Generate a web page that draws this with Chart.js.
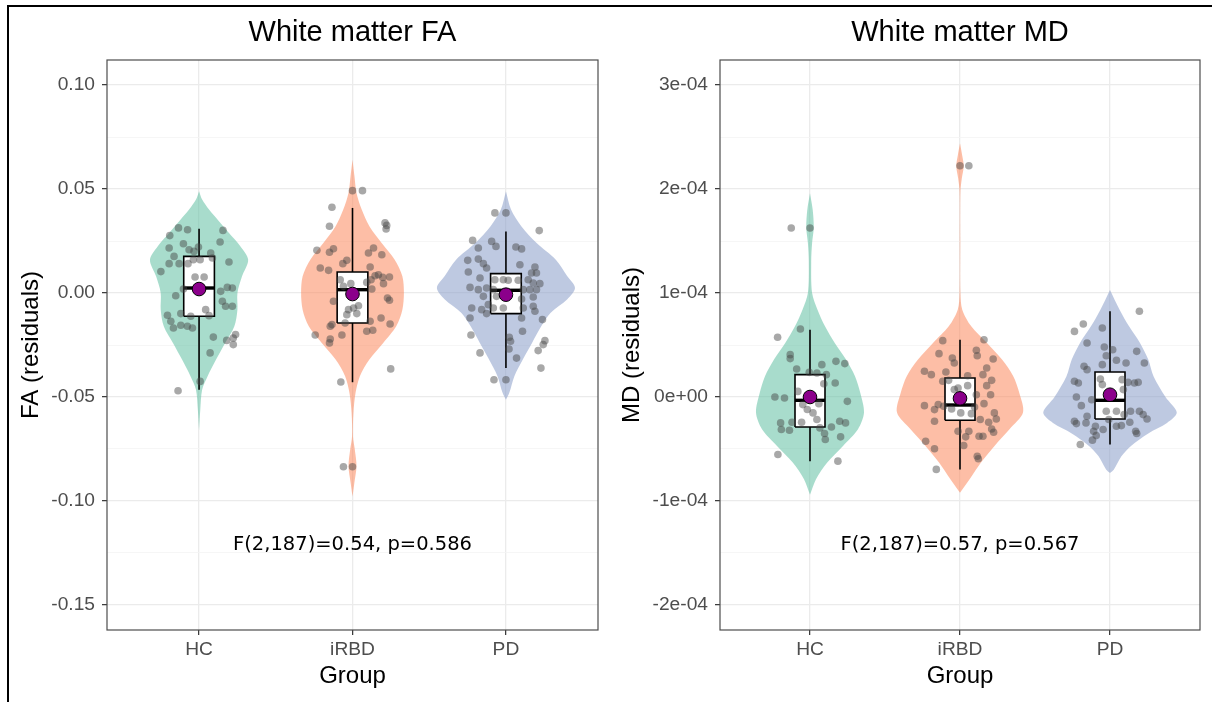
<!DOCTYPE html>
<html>
<head>
<meta charset="utf-8">
<script src="https://cdn.jsdelivr.net/npm/chart.js@4.4.1/dist/chart.umd.min.js"></script>
<style>
  html, body { margin: 0; padding: 0; background: #fff; }
  body { width: 1212px; height: 702px; position: relative; overflow: hidden; }
  #frame { position: absolute; left: 7px; top: 5px; width: 1300px; height: 800px;
           border-top: 2px solid #000; border-left: 2px solid #000; }
  canvas { position: absolute; top: 0; }
  #fa { left: 0; }
  #md { left: 606px; }
</style>
</head>
<body>
<div id="frame"></div>
<canvas id="fa" width="606" height="702"></canvas>
<canvas id="md" width="606" height="702"></canvas>
<script>
const groups = ['HC', 'iRBD', 'PD'];
const groupColors = ['#66C2A5', '#FC8D62', '#8DA0CB'];

// ---- White matter FA ----
const faTickValues = [-0.15, -0.10, -0.05, 0, 0.05, 0.10];
const faTickLabels = ['-0.15', '-0.10', '-0.05', '0.00', '0.05', '0.10'];
const faQ1 = [-0.0112, -0.0144, -0.0099];
const faMedian = [0.0024, 0.0016, 0.0013];
const faQ3 = [0.0176, 0.0101, 0.0093];
const faWhiskerLow = [-0.0465, -0.0429, -0.0361];
const faWhiskerHigh = [0.0309, 0.0409, 0.0296];
const faMean = [0.0019, -0.0005, -0.0008];
const faStat = 'F(2,187)=0.54, p=0.586';

// violin outline: [value, half width in group units]
const faViolinHC = [[-0.066,0],[-0.056,0.008],[-0.0465,0.02],[-0.0401,0.055],[-0.0321,0.11],[-0.024,0.17],[-0.016,0.23],[-0.008,0.25],[0,0.25],[0.008,0.28],[0.016,0.32],[0.0224,0.27],[0.0288,0.195],[0.0353,0.12],[0.0401,0.065],[0.0449,0.02],[0.0489,0]];
const faViolinIRBD = [[-0.0978,0],[-0.0913,0.012],[-0.0833,0.026],[-0.0753,0.015],[-0.0689,0.003],[-0.0577,0.006],[-0.048,0.02],[-0.040,0.048],[-0.032,0.11],[-0.024,0.2],[-0.016,0.285],[-0.008,0.325],[0,0.335],[0.008,0.325],[0.016,0.275],[0.024,0.19],[0.0321,0.11],[0.0401,0.06],[0.0481,0.026],[0.056,0.013],[0.0641,0]];
const faViolinPD = [[-0.0513,0],[-0.048,0.022],[-0.040,0.055],[-0.032,0.11],[-0.024,0.17],[-0.016,0.23],[-0.0096,0.29],[-0.003,0.40],[0.0024,0.45],[0.008,0.40],[0.016,0.325],[0.024,0.2],[0.0321,0.1],[0.0401,0.033],[0.0489,0]];

// jittered observations: [x offset in group units, value]
const faPointsHC = [[-0.134,0.0313],[-0.075,0.0304],[-0.191,0.0276],[0.156,0.0301],[-0.102,0.0237],[-0.004,0.0221],[0.137,0.0245],[-0.195,0.0216],[-0.065,0.0208],[-0.033,0.0200],[0.076,0.0192],[-0.163,0.0176],[0.087,0.0168],[0.007,0.0160],[-0.037,0.0160],[0.195,0.0149],[-0.195,0.0141],[-0.130,0.0141],[-0.072,0.0141],[-0.249,0.0103],[-0.026,0.0077],[0.033,0.0077],[-0.102,0.0019],[0.141,0.0008],[0.184,0.0027],[0.217,0.0024],[-0.152,-0.0013],[0.152,-0.0040],[0.173,-0.0064],[0.217,-0.0064],[0.043,-0.0080],[-0.119,-0.0099],[-0.206,-0.0107],[-0.054,-0.0112],[0.065,-0.0109],[-0.184,-0.0136],[-0.119,-0.0155],[-0.076,-0.0160],[-0.043,-0.0168],[-0.167,-0.0168],[0.093,-0.0212],[0.180,-0.0228],[0.223,-0.0248],[0.238,-0.0200],[0.223,-0.0216],[0.072,-0.0288],[0.007,-0.0425],[-0.137,-0.0470]];
const faPointsIRBD = [[0,0.0492],[0.065,0.0492],[-0.134,0.0412],[-0.150,0.0321],[0.212,0.0337],[0.223,0.0325],[0.219,0.0308],[-0.232,0.0205],[-0.150,0.0196],[-0.124,0.0213],[0.137,0.0216],[0.104,0.0192],[0.191,0.0184],[-0.037,0.0157],[-0.063,0.0141],[0.115,0.0125],[-0.210,0.0120],[-0.156,0.0109],[0.169,0.0088],[0.147,0.0083],[0.197,0.0075],[0.121,0.0064],[0.241,0.0077],[-0.011,0.0045],[-0.080,0.0064],[-0.059,0.0032],[0.093,0.0051],[0.202,0.0045],[0.126,0.0019],[-0.124,-0.0040],[0.228,-0.0024],[0.241,-0.0035],[0.039,-0.0061],[0.007,-0.0072],[-0.026,-0.0080],[-0.037,-0.0104],[0.028,-0.0099],[0.186,-0.0120],[-0.134,-0.0152],[-0.145,-0.0160],[-0.048,-0.0144],[0.115,-0.0136],[0.132,-0.0179],[0.093,-0.0184],[0.245,-0.0149],[-0.243,-0.0202],[-0.069,-0.0202],[-0.145,-0.0221],[-0.150,-0.0240],[0.249,-0.0365],[-0.076,-0.0428],[-0.059,-0.0835],[0,-0.0835]];
const faPointsPD = [[-0.072,0.0385],[0,0.0385],[0.217,0.0300],[-0.217,0.0253],[-0.093,0.0248],[-0.065,0.0224],[-0.180,0.0216],[0.065,0.0221],[0.102,0.0212],[-0.249,0.0157],[-0.180,0.0163],[-0.147,0.0141],[-0.126,0.0120],[0.091,0.0136],[0.189,0.0125],[0.167,0.0096],[0.199,0.0096],[-0.245,0.0101],[-0.169,0.0072],[-0.072,0.0064],[-0.017,0.0064],[0.015,0.0061],[0.080,0.0061],[0.145,0.0064],[0.178,0.0048],[0.221,0.0045],[-0.234,0.0027],[-0.180,0.0016],[-0.126,0.0024],[-0.082,0.0016],[0.113,0.0016],[0.156,0.0016],[0.199,0.0016],[-0.147,-0.0016],[-0.061,-0.0016],[0.102,-0.0029],[0.178,-0.0019],[-0.115,-0.0056],[-0.082,-0.0072],[-0.223,-0.0072],[-0.158,-0.0080],[-0.017,-0.0072],[0.113,-0.0072],[0.178,-0.0064],[0.189,-0.0088],[-0.126,-0.0099],[-0.234,-0.0120],[0.102,-0.0120],[0.238,-0.0128],[0.108,-0.0184],[0.022,-0.0213],[-0.228,-0.0202],[0.030,-0.0232],[0.254,-0.0229],[0.243,-0.0248],[0.020,-0.0269],[-0.169,-0.0288],[0.210,-0.0277],[0.069,-0.0313],[0.228,-0.0361],[-0.078,-0.0417],[0,-0.0417]];

// ---- White matter MD ----
const mdTickValues = [-2e-4, -1e-4, 0, 1e-4, 2e-4, 3e-4];
const mdTickLabels = ['-2e-04', '-1e-04', '0e+00', '1e-04', '2e-04', '3e-04'];
const mdQ1 = [-0.288e-4, -0.224e-4, -0.211e-4];
const mdMedian = [-0.032e-4, -0.077e-4, -0.032e-4];
const mdQ3 = [0.215e-4, 0.183e-4, 0.240e-4];
const mdWhiskerLow = [-0.617e-4, -0.696e-4, -0.457e-4];
const mdWhiskerHigh = [0.647e-4, 0.551e-4, 0.824e-4];
const mdMean = [0, -0.013e-4, 0.022e-4];
const mdStat = 'F(2,187)=0.57, p=0.567';

const mdViolinHC = [[-0.94e-4,0],[-0.79e-4,0.04],[-0.63e-4,0.115],[-0.47e-4,0.22],[-0.31e-4,0.32],[-0.15e-4,0.36],[0.04e-4,0.335],[0.20e-4,0.30],[0.36e-4,0.24],[0.52e-4,0.165],[0.68e-4,0.10],[0.84e-4,0.05],[1.0e-4,0.014],[1.3e-4,0.008],[1.48e-4,0.014],[1.63e-4,0.025],[1.8e-4,0.018],[1.96e-4,0]];
const mdViolinIRBD = [[-0.92e-4,0],[-0.79e-4,0.064],[-0.63e-4,0.14],[-0.47e-4,0.23],[-0.31e-4,0.33],[-0.15e-4,0.42],[0.04e-4,0.395],[0.20e-4,0.355],[0.36e-4,0.28],[0.52e-4,0.18],[0.68e-4,0.075],[0.84e-4,0.015],[1.0e-4,0.003],[1.5e-4,0.002],[1.98e-4,0.003],[2.1e-4,0.012],[2.22e-4,0.025],[2.32e-4,0.015],[2.44e-4,0]];
const mdViolinPD = [[-0.73e-4,0],[-0.70e-4,0.025],[-0.57e-4,0.076],[-0.47e-4,0.14],[-0.35e-4,0.255],[-0.25e-4,0.38],[-0.15e-4,0.445],[0,0.37],[0.20e-4,0.29],[0.36e-4,0.255],[0.52e-4,0.2],[0.68e-4,0.127],[0.84e-4,0.064],[1.03e-4,0]];

const mdPointsHC = [[-0.125,1.625e-4],[0,1.625e-4],[-0.216,0.574e-4],[-0.064,0.654e-4],[-0.132,0.407e-4],[-0.132,0.369e-4],[0.173,0.343e-4],[0.232,0.321e-4],[-0.089,0.269e-4],[-0.005,0.237e-4],[0.079,0.311e-4],[0.046,0.231e-4],[0.109,0.215e-4],[0.168,0.135e-4],[0.092,0.128e-4],[-0.081,0.054e-4],[-0.234,0],[-0.170,-0.01e-4],[-0.048,-0.073e-4],[-0.018,-0.12e-4],[0.059,-0.064e-4],[0.249,-0.042e-4],[-0.196,-0.249e-4],[-0.120,-0.243e-4],[-0.191,-0.313e-4],[-0.137,-0.319e-4],[-0.056,-0.243e-4],[0.046,-0.217e-4],[0.066,-0.297e-4],[0.143,-0.288e-4],[0.097,-0.351e-4],[0.198,-0.233e-4],[0.237,-0.249e-4],[0.204,-0.383e-4],[0.102,-0.409e-4],[-0.214,-0.553e-4],[0.186,-0.617e-4],[0.02,-0.153e-4]];
const mdPointsIRBD = [[0,2.224e-4],[0.059,2.224e-4],[-0.115,0.542e-4],[0.160,0.551e-4],[-0.140,0.417e-4],[-0.051,0.375e-4],[-0.038,0.327e-4],[0.109,0.449e-4],[0.115,0.397e-4],[0.221,0.365e-4],[-0.237,0.247e-4],[-0.191,0.215e-4],[-0.094,0.240e-4],[0.051,0.205e-4],[0.178,0.279e-4],[0.153,0.215e-4],[-0.115,0.151e-4],[-0.076,0.160e-4],[0.211,0.160e-4],[0.178,0.109e-4],[0.051,0.109e-4],[-0.013,0.087e-4],[-0.038,0.071e-4],[0.109,0.022e-4],[0.204,0.022e-4],[-0.237,-0.083e-4],[-0.145,-0.073e-4],[-0.170,-0.121e-4],[-0.109,-0.089e-4],[-0.056,-0.115e-4],[0.097,-0.096e-4],[0.160,-0.064e-4],[0.229,-0.153e-4],[0.242,-0.211e-4],[-0.170,-0.233e-4],[0.005,-0.153e-4],[0.076,-0.160e-4],[0.135,-0.217e-4],[0.191,-0.243e-4],[0.211,-0.307e-4],[0.224,-0.339e-4],[0.059,-0.329e-4],[0.127,-0.377e-4],[0.153,-0.377e-4],[-0.013,-0.329e-4],[0.038,-0.383e-4],[-0.229,-0.425e-4],[-0.170,-0.498e-4],[0.025,-0.466e-4],[0.115,-0.569e-4],[0.122,-0.594e-4],[-0.158,-0.696e-4]];
const mdPointsPD = [[0.196,0.824e-4],[-0.178,0.702e-4],[-0.237,0.631e-4],[-0.051,0.663e-4],[-0.153,0.519e-4],[-0.038,0.481e-4],[0.018,0.455e-4],[-0.025,0.397e-4],[0.178,0.439e-4],[0.229,0.327e-4],[0.107,0.327e-4],[0.043,0.353e-4],[-0.051,0.311e-4],[-0.173,0.295e-4],[-0.153,0.263e-4],[-0.064,0.173e-4],[0.081,0.167e-4],[0.120,0.141e-4],[0.163,0.135e-4],[0.188,0.141e-4],[-0.237,0.151e-4],[-0.211,0.135e-4],[-0.051,0.119e-4],[0.089,0.071e-4],[-0.224,0],[-0.191,-0.083e-4],[-0.122,-0.026e-4],[-0.025,-0.137e-4],[0.043,-0.137e-4],[0.137,-0.137e-4],[0.196,-0.137e-4],[0.221,-0.169e-4],[0.247,-0.211e-4],[0.094,-0.169e-4],[0.132,-0.243e-4],[0.043,-0.281e-4],[0.076,-0.275e-4],[0.171,-0.329e-4],[0.178,-0.351e-4],[-0.237,-0.233e-4],[-0.224,-0.256e-4],[-0.153,-0.185e-4],[-0.160,-0.249e-4],[-0.097,-0.281e-4],[-0.109,-0.329e-4],[-0.092,-0.371e-4],[-0.117,-0.415e-4],[-0.198,-0.457e-4],[-0.008,-0.217e-4],[-0.046,-0.313e-4]];

const SANS = '"Liberation Sans", Arial, Helvetica, sans-serif';

function rgba(hex, a) {
  const n = parseInt(hex.slice(1), 16);
  return `rgba(${(n >> 16) & 255},${(n >> 8) & 255},${n & 255},${a})`;
}

function buildDatasets(p) {
  const ds = [];
  const half = 0.1; // box half width
  p.violins.forEach((prof, g) => {
    const c = g + 1;
    const right = prof.map(([v, w]) => ({ x: c + w, y: v }));
    const left = prof.slice().reverse().map(([v, w]) => ({ x: c - w, y: v }));
    ds.push({ type: 'line', data: right.concat(left), fill: 'shape', tension: 0.3,
      backgroundColor: rgba(groupColors[g], 0.57), borderColor: 'rgba(0,0,0,0)', borderWidth: 0,
      pointRadius: 0, order: 6 });
  });
  groups.forEach((name, g) => {
    const c = g + 1;
    ds.push({ type: 'line', data: [{ x: c, y: p.wLow[g] }, { x: c, y: p.wHigh[g] }],
      borderColor: '#000', borderWidth: 1.6, pointRadius: 0, fill: false, order: 5 });
    ds.push({ type: 'line', data: [
        { x: c - half, y: p.q1[g] }, { x: c + half, y: p.q1[g] },
        { x: c + half, y: p.q3[g] }, { x: c - half, y: p.q3[g] }, { x: c - half, y: p.q1[g] }],
      fill: 'shape', backgroundColor: '#fff', borderColor: '#000', borderWidth: 1.6,
      pointRadius: 0, tension: 0, order: 4 });
    ds.push({ type: 'line', data: [{ x: c - half, y: p.median[g] }, { x: c + half, y: p.median[g] }],
      borderColor: '#000', borderWidth: 3.4, pointRadius: 0, fill: false, order: 3 });
  });
  const pts = [];
  p.points.forEach((arr, g) => arr.forEach(([dx, v]) => pts.push({ x: g + 1 + dx, y: v })));
  ds.push({ type: 'scatter', data: pts, pointRadius: 3.8, borderWidth: 0,
    backgroundColor: 'rgba(70,70,70,0.47)', order: 2 });
  ds.push({ type: 'scatter', data: p.mean.map((m, g) => ({ x: g + 1, y: m })),
    pointRadius: 6.8, borderWidth: 1, borderColor: '#000', backgroundColor: '#8B008B', order: 1 });
  return ds;
}

const panelDecor = {
  id: 'panelDecor',
  afterDatasetsDraw(chart) {
    const { ctx, chartArea: a, scales } = chart;
    const st = chart.options.plugins.panelDecor;
    ctx.save();
    ctx.strokeStyle = '#4d4d4d';
    ctx.lineWidth = 1.2;
    ctx.strokeRect(a.left, a.top, a.right - a.left, a.bottom - a.top);
    ctx.fillStyle = '#000';
    ctx.font = '19.5px "DejaVu Sans", sans-serif';
    ctx.textAlign = 'center';
    ctx.textBaseline = 'middle';
    ctx.fillText(st.text, scales.x.getPixelForValue(st.x), scales.y.getPixelForValue(st.y));
    ctx.restore();
  }
};

function makePanel(id, p) {
  const step = p.tickValues[1] - p.tickValues[0];
  const isMajor = v => p.tickValues.some(t => Math.abs(t - v) < step * 1e-6);
  new Chart(document.getElementById(id), {
    type: 'scatter',
    data: { datasets: buildDatasets(p) },
    options: {
      responsive: false,
      animation: false,
      events: [],
      layout: { padding: { left: 0, right: p.padRight, top: 0, bottom: 0 } },
      plugins: {
        legend: { display: false },
        tooltip: { enabled: false },
        title: { display: true, text: p.title, fullSize: false, color: '#000',
          font: { family: SANS, size: 29, weight: 'normal', lineHeight: 1.2 },
          padding: { top: 15.6, bottom: 9.6 } },
        panelDecor: { text: p.stat, x: 2, y: p.statY }
      },
      scales: {
        x: {
          type: 'linear', min: 0.4, max: 3.6, bounds: 'data',
          afterBuildTicks: s => { s.ticks = groups.map((g, i) => ({ value: i + 1 })); },
          afterFit: s => { s.height = 72; },
          ticks: { autoSkip: false, maxRotation: 0, padding: 3, color: '#4d4d4d',
            font: { family: SANS, size: 19.2 },
            callback: v => groups[Math.round(v) - 1] },
          grid: { color: '#ebebeb', lineWidth: 1.3, tickColor: '#333', tickWidth: 1.2, tickLength: 5 },
          border: { display: false },
          title: { display: true, text: 'Group', color: '#000',
            font: { family: SANS, size: 24, lineHeight: 1.2 }, padding: { top: 0, bottom: 11.1 } }
        },
        y: {
          type: 'linear', min: p.min, max: p.max, bounds: 'data',
          afterBuildTicks: s => {
            const all = [];
            p.tickValues.forEach((t, i) => {
              all.push(t);
              if (i < p.tickValues.length - 1) all.push((t + p.tickValues[i + 1]) / 2);
            });
            s.ticks = all.map(v => ({ value: v }));
          },
          afterFit: s => { s.width = p.axisWidth; },
          ticks: { autoSkip: false, padding: 7, color: '#4d4d4d',
            font: { family: SANS, size: 19.2 },
            callback: v => {
              const i = p.tickValues.findIndex(t => Math.abs(t - v) < step * 1e-6);
              return i >= 0 ? p.tickLabels[i] : '';
            } },
          grid: {
            color: c => isMajor(c.tick.value) ? '#ebebeb' : '#f4f4f4',
            lineWidth: c => isMajor(c.tick.value) ? 1.3 : 0.8,
            tickColor: c => isMajor(c.tick.value) ? '#333' : 'rgba(0,0,0,0)',
            tickWidth: 1.2, tickLength: 5
          },
          border: { display: false },
          title: { display: true, text: p.yTitle, color: '#000',
            font: { family: SANS, size: 24, lineHeight: 1.2 }, padding: { top: p.yTitleOffset, bottom: 0 } }
        }
      }
    },
    plugins: [panelDecor]
  });
}

makePanel('fa', {
  title: 'White matter FA', yTitle: 'FA (residuals)', stat: faStat, statY: -0.1213,
  tickValues: faTickValues, tickLabels: faTickLabels, min: -0.16202, max: 0.11202,
  q1: faQ1, median: faMedian, q3: faQ3, wLow: faWhiskerLow, wHigh: faWhiskerHigh, mean: faMean,
  violins: [faViolinHC, faViolinIRBD, faViolinPD],
  points: [faPointsHC, faPointsIRBD, faPointsPD],
  axisWidth: 107, padRight: 8, yTitleOffset: 16.6
});

makePanel('md', {
  title: 'White matter MD', yTitle: 'MD (residuals)', stat: mdStat, statY: -1.42e-4,
  tickValues: mdTickValues, tickLabels: mdTickLabels, min: -2.2404e-4, max: 3.2404e-4,
  q1: mdQ1, median: mdMedian, q3: mdQ3, wLow: mdWhiskerLow, wHigh: mdWhiskerHigh, mean: mdMean,
  violins: [mdViolinHC, mdViolinIRBD, mdViolinPD],
  points: [mdPointsHC, mdPointsIRBD, mdPointsPD],
  axisWidth: 114, padRight: 12, yTitleOffset: 11.6
});
</script>
</body>
</html>
